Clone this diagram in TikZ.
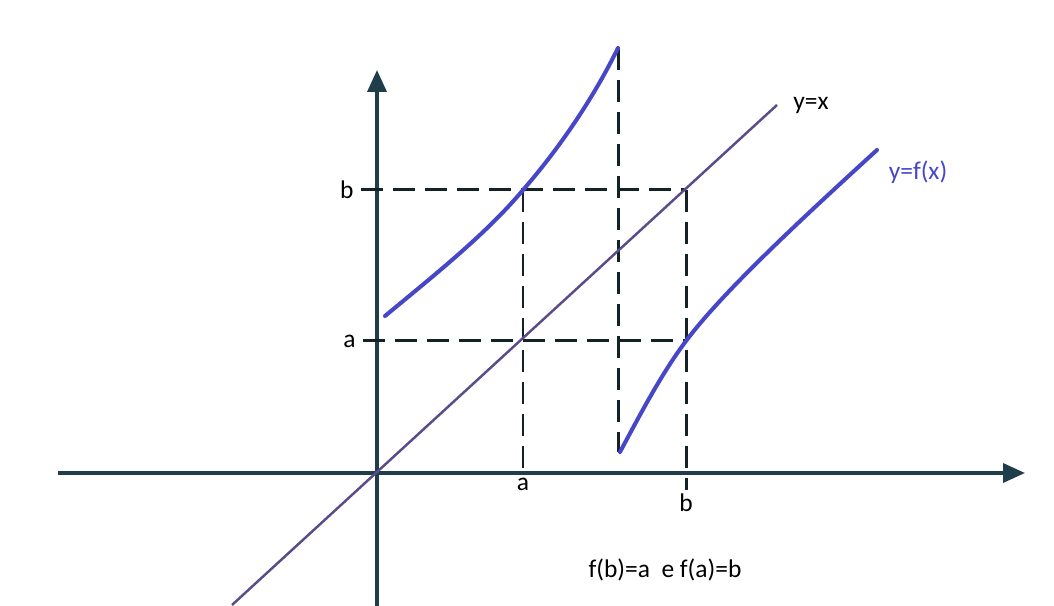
\documentclass[tikz,border=0pt]{standalone}
\usepackage{fontspec}
\setmainfont{Carlito}
\usepackage{tikz}
\usepackage{xcolor}
\usetikzlibrary{positioning, arrows.meta, calc}
\definecolor{cAxis}  {HTML}{1F3D4A}
\definecolor{cDiag}  {HTML}{5B4B8A}
\definecolor{cCurve} {HTML}{4646C8}
\definecolor{cDash}  {HTML}{142228}
\tikzset{
  axisline/.style={cAxis, line width=2pt, -{Triangle[length=4.4mm, width=3.8mm]}},
  guide/.style={cDash, line width=1.7pt, dash pattern=on 4.4mm off 2mm},
  branch/.style={cCurve, line width=2.3pt, line cap=round},
  lbl/.style={font=\fontsize{14.5}{17}\selectfont, inner sep=1pt},
}

\begin{document}
\begin{tikzpicture}[x=0.2mm, y=0.2mm]
        \useasboundingbox[fill=white] (-377, -133) rectangle (677, 473);
        % reference points: origin, a and b on the diagonal
        \coordinate (O) at (0, 0);
        \coordinate (A) at (146, 132);
        \coordinate (B) at (309, 283);
        \coordinate (xL) at (-319, 0);
        \coordinate (xR) at (648, 0);
        \coordinate (yB) at (0, -133);
        \coordinate (yT) at (0, 403);
        \coordinate (dL) at (-145, -132);
        \coordinate (dR) at (400, 368);
        \coordinate (aY) at (-14, 132);
        \coordinate (bY) at (-16, 283);
        \coordinate (aX) at (146, 0);
        \coordinate (bX) at (309, -17);
        \coordinate (jT) at (241, 425);
        \coordinate (jB) at (241, 21);
        % axes
        \draw[axisline] (xL) -- (xR);
        \draw[axisline] (yB) -- (yT);
        % guides to a and b
        \draw[guide] (aY) -- (A -| B);
        \draw[guide] (bY) -- (B);
        \draw[guide] (A |- B) -- (aX);
        \draw[guide] (B) -- (bX);
        \draw[guide] (jT) -- (jB);
        % y = x
        \draw[cDiag, line width=1.4pt] (dL) -- (dR);
        % the two branches of f
        \draw[branch] (8,157) .. controls (60,200) and (110,240) .. (146,283)
            .. controls (180,322) and (215,372) .. (jT);
        \draw[branch] (243,21) .. controls (265,62) and (285,100) .. (309,132)
            .. controls (345,180) and (420,250) .. (500,323);
        % labels
        \node[lbl] (lDiag) at (434, 368) {y=x};
        \node[lbl, text=cCurve] (lCurve) at (541, 301) {y=f(x)};
        \node[lbl, left=3pt of bY] (lbY) {b};
        \node[lbl, left=3pt of aY] (laY) {a};
        \node[lbl, below=2pt of aX] (laX) {a};
        \node[lbl, below=1pt of bX] (lbX) {b};
        \node[lbl] (lNote) at (288, -97) {f(b)=a\ \ e f(a)=b};
      \end{tikzpicture}
\end{document}
